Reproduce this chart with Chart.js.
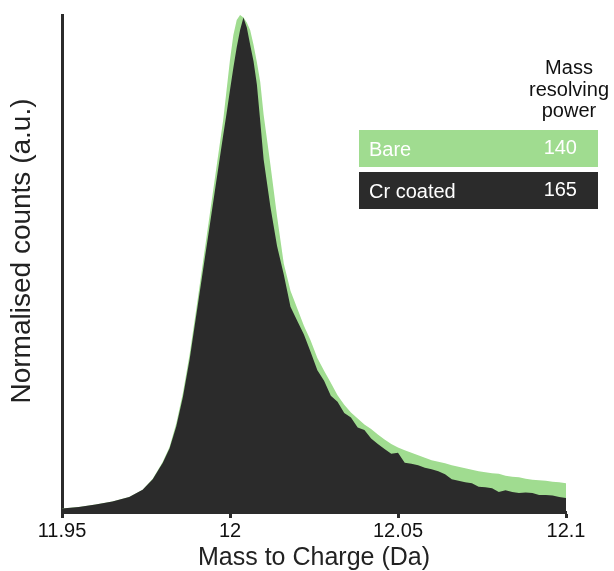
<!DOCTYPE html>
<html>
<head>
<meta charset="utf-8">
<script src="https://cdn.jsdelivr.net/npm/chart.js@4.4.0/dist/chart.umd.min.js"></script>
<style>
  html, body { margin: 0; padding: 0; background: #fff; }
  #wrap { position: relative; width: 614px; height: 571px; font-family: 'Liberation Sans', Arial, sans-serif; }
  canvas { display: block; }
  .hdr { position: absolute; left: 509px; top: 57px; width: 120px; text-align: center; font-size: 20px; line-height: 21.7px; color: #111; }
  .row { position: absolute; left: 359px; width: 239px; height: 37px; line-height: 37px; color: #fff; font-size: 20px; }
  .row .name { position: absolute; left: 10px; top: 1px; }
  .row .val { position: absolute; right: 21px; top: -1px; }
</style>
</head>
<body>
<div id="wrap">
  <canvas id="peak" width="614" height="571"></canvas>
  <div class="hdr" id="hdr"></div>
  <div id="legendRows"></div>
</div>
<script>
// m/z axis (Da)
const massDa = [
  11.950, 11.955, 11.960, 11.965, 11.970, 11.974, 11.977, 11.980, 11.982, 11.984,
  11.986, 11.988, 11.990, 11.992, 11.994, 11.996, 11.998, 11.999, 12.000, 12.001,
  12.002, 12.003, 12.004, 12.005, 12.006, 12.007, 12.008, 12.009, 12.010, 12.012,
  12.014, 12.016, 12.018, 12.020, 12.022, 12.024, 12.026, 12.028,
  12.030, 12.032, 12.034, 12.036, 12.038, 12.040, 12.042, 12.044, 12.046, 12.048,
  12.050, 12.052, 12.054, 12.056, 12.058, 12.060, 12.062, 12.064, 12.066, 12.068,
  12.070, 12.072, 12.074, 12.076, 12.078, 12.080, 12.082, 12.084, 12.086, 12.088,
  12.090, 12.092, 12.094, 12.096, 12.098, 12.100
];

// normalised counts, bare tip
const bareCounts = [
  0.007, 0.010, 0.015, 0.021, 0.030, 0.045, 0.067, 0.101, 0.131, 0.178,
  0.240, 0.318, 0.410, 0.505, 0.600, 0.695, 0.790, 0.850, 0.910, 0.960,
  0.990, 1.000, 0.995, 0.985, 0.970, 0.940, 0.905, 0.865, 0.800, 0.700,
  0.595, 0.500, 0.445, 0.410, 0.375, 0.345, 0.310, 0.284,
  0.260, 0.235, 0.216, 0.200, 0.188, 0.176, 0.167, 0.156, 0.146, 0.137,
  0.130, 0.124, 0.119, 0.114, 0.109, 0.104, 0.101, 0.098, 0.094, 0.091,
  0.088, 0.085, 0.082, 0.080, 0.078, 0.077, 0.073, 0.071, 0.070, 0.067,
  0.065, 0.064, 0.063, 0.061, 0.060, 0.058
];

// normalised counts, Cr coated tip
const crCounts = [
  0.007, 0.010, 0.015, 0.021, 0.030, 0.045, 0.066, 0.099, 0.128, 0.172,
  0.232, 0.308, 0.398, 0.488, 0.578, 0.669, 0.759, 0.803, 0.849, 0.894,
  0.935, 0.970, 0.995, 0.975, 0.940, 0.907, 0.860, 0.786, 0.710, 0.615,
  0.535, 0.478, 0.413, 0.385, 0.357, 0.322, 0.285, 0.264,
  0.234, 0.222, 0.199, 0.190, 0.170, 0.165, 0.148, 0.137, 0.127, 0.117,
  0.119, 0.099, 0.097, 0.094, 0.089, 0.086, 0.082, 0.076, 0.066, 0.063,
  0.060, 0.058, 0.051, 0.050, 0.048, 0.040, 0.044, 0.040, 0.038, 0.039,
  0.038, 0.034, 0.034, 0.033, 0.030, 0.028
];

const tickValues = [11.95, 12.0, 12.05, 12.1];
const tickLabels = ['11.95', '12', '12.05', '12.1'];

const seriesNames = ['Bare', 'Cr coated'];
const resolvingPower = [140, 165];
const seriesColors = ['#a0dc90', '#2b2b2b'];

const FONT = "'Liberation Sans', Arial, sans-serif";
const AXIS = '#2b2b2b';
const Y_TITLE = 'Normalised counts (a.u.)';

// legend table (html text)
document.getElementById('hdr').innerHTML = 'Mass<br>resolving<br>power';
const rowsEl = document.getElementById('legendRows');
seriesNames.forEach((n, i) => {
  const d = document.createElement('div');
  d.className = 'row';
  d.style.top = (130 + i * 42) + 'px';
  d.style.background = seriesColors[i];
  d.innerHTML = `<span class="name">${n}</span><span class="val">${resolvingPower[i]}</span>`;
  rowsEl.appendChild(d);
});

// y title drawn by hand so it can sit a bit above the axis centre like the original
const yTitlePlugin = {
  id: 'yTitle',
  afterDraw(chart) {
    const c = chart.ctx;
    c.save();
    c.translate(22, 251);
    c.rotate(-Math.PI / 2);
    c.font = '28px ' + FONT;
    c.fillStyle = '#222';
    c.textAlign = 'center';
    c.textBaseline = 'middle';
    c.fillText(Y_TITLE, 0, 0);
    c.restore();
  }
};

const pts = (ys) => massDa.map((x, i) => ({ x, y: ys[i] }));

new Chart(document.getElementById('peak'), {
  type: 'line',
  data: {
    datasets: [
      // first dataset is drawn on top
      { label: seriesNames[1], data: pts(crCounts), fill: 'origin', backgroundColor: seriesColors[1],
        borderWidth: 0, pointRadius: 0, tension: 0 },
      { label: seriesNames[0], data: pts(bareCounts), fill: 'origin', backgroundColor: seriesColors[0],
        borderWidth: 0, pointRadius: 0, tension: 0 }
    ]
  },
  options: {
    responsive: false,
    animation: false,
    layout: { padding: { left: 0, top: 15, right: 48, bottom: 0 } },
    plugins: { legend: { display: false }, tooltip: { enabled: false } },
    scales: {
      x: {
        type: 'linear',
        min: 11.95, max: 12.1,
        afterBuildTicks: (s) => { s.ticks = tickValues.map(v => ({ value: v })); },
        afterFit: (s) => { s.height = 59; },
        ticks: { callback: (v, i) => tickLabels[i], color: '#111', padding: 1, maxRotation: 0,
                 font: { family: FONT, size: 20 } },
        grid: { display: true, drawOnChartArea: false, drawTicks: true, tickLength: 6,
                tickWidth: 3, tickColor: AXIS },
        border: { display: true, width: 3, color: AXIS },
        title: { display: true, text: 'Mass to Charge (Da)', color: '#222',
                 font: { family: FONT, size: 25, lineHeight: 1 }, padding: { top: 0, bottom: 0 } }
      },
      y: {
        min: 0, max: 1.0,
        afterFit: (s) => { s.width = 62; },
        ticks: { display: false },
        grid: { display: false },
        border: { display: true, width: 3, color: AXIS },
        title: { display: false }
      }
    }
  },
  plugins: [yTitlePlugin]
});
</script>
</body>
</html>
